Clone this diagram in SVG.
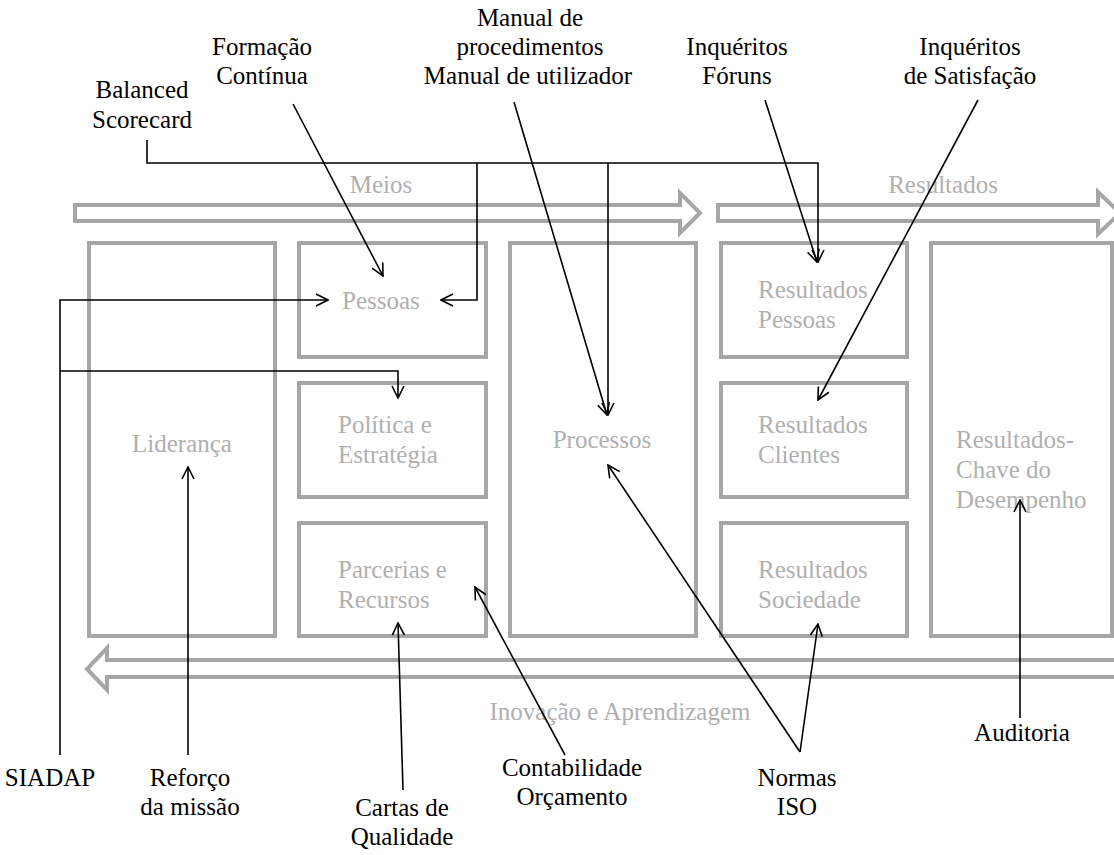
<svg xmlns="http://www.w3.org/2000/svg" width="1114" height="855" viewBox="0 0 1114 855">
  <defs>
    <style>
      .box { fill: none; stroke: #a6a6a6; stroke-width: 4; }
      .band { fill: none; stroke: #a6a6a6; stroke-width: 4; stroke-linejoin: miter; }
      .glabel { font-family: "Liberation Serif", "Times New Roman", serif; font-size: 25px; fill: #b0b0b0; }
      .label { font-family: "Liberation Serif", "Times New Roman", serif; font-size: 25px; fill: #000; }
      .mid { text-anchor: middle; }
      .link { fill: none; stroke: #000; stroke-width: 1.6; marker-end: url(#open); }
    </style>
    <marker id="open" viewBox="0 0 14 14" refX="13" refY="7" markerWidth="14" markerHeight="14" markerUnits="userSpaceOnUse" orient="auto">
      <path d="M1,1 L13,7 L1,13" fill="none" stroke="#000" stroke-width="1.6"/>
    </marker>
  </defs>

  <!-- flow bands -->
  <g id="bands">
    <path class="band" d="M75,205 H680 V193 L700,213 L680,233 V221 H75 Z"/>
    <path class="band" d="M718,205 H1098 V192 L1120,213 L1098,234 V221 H718 Z"/>
    <path class="band" d="M1120,660 H107 V648 L87,669 L107,690 V677 H1120"/>
    <text class="glabel mid" x="381" y="193">Meios</text>
    <text class="glabel mid" x="943" y="193">Resultados</text>
    <text class="glabel mid" x="620" y="720">Inovação e Aprendizagem</text>
  </g>

  <!-- criteria boxes -->
  <g id="lideranca">
    <rect class="box" x="89" y="243" width="186" height="393"/>
    <text class="glabel mid" x="182" y="452">Liderança</text>
  </g>
  <g id="pessoas">
    <rect class="box" x="299" y="243" width="187" height="114"/>
    <text class="glabel" x="342" y="309">Pessoas</text>
  </g>
  <g id="politica">
    <rect class="box" x="299" y="383" width="187" height="114"/>
    <text class="glabel" x="338" y="433">Política e</text>
    <text class="glabel" x="338" y="463">Estratégia</text>
  </g>
  <g id="parcerias">
    <rect class="box" x="299" y="523" width="187" height="113"/>
    <text class="glabel" x="338" y="578">Parcerias e</text>
    <text class="glabel" x="338" y="608">Recursos</text>
  </g>
  <g id="processos">
    <rect class="box" x="510" y="243" width="186" height="393"/>
    <text class="glabel mid" x="602" y="448">Processos</text>
  </g>
  <g id="res-pessoas">
    <rect class="box" x="721" y="243" width="186" height="114"/>
    <text class="glabel" x="758" y="298">Resultados</text>
    <text class="glabel" x="758" y="328">Pessoas</text>
  </g>
  <g id="res-clientes">
    <rect class="box" x="721" y="383" width="186" height="114"/>
    <text class="glabel" x="758" y="433">Resultados</text>
    <text class="glabel" x="758" y="463">Clientes</text>
  </g>
  <g id="res-sociedade">
    <rect class="box" x="721" y="523" width="186" height="113"/>
    <text class="glabel" x="758" y="578">Resultados</text>
    <text class="glabel" x="758" y="608">Sociedade</text>
  </g>
  <g id="res-chave">
    <rect class="box" x="931" y="243" width="181" height="393"/>
    <text class="glabel" x="956" y="448">Resultados-</text>
    <text class="glabel" x="956" y="478">Chave do</text>
    <text class="glabel" x="956" y="508">Desempenho</text>
  </g>

  <!-- management tools -->
  <g id="manual">
    <text class="label mid" x="530" y="26">Manual de</text>
    <text class="label mid" x="530" y="55">procedimentos</text>
    <text class="label mid" x="528" y="84">Manual de utilizador</text>
  </g>
  <g id="formacao">
    <text class="label mid" x="262" y="55">Formação</text>
    <text class="label mid" x="262" y="84">Contínua</text>
  </g>
  <g id="balanced">
    <text class="label mid" x="142" y="98">Balanced</text>
    <text class="label mid" x="142" y="128">Scorecard</text>
  </g>
  <g id="foruns">
    <text class="label mid" x="737" y="55">Inquéritos</text>
    <text class="label mid" x="737" y="84">Fóruns</text>
  </g>
  <g id="satisfacao">
    <text class="label mid" x="970" y="55">Inquéritos</text>
    <text class="label mid" x="970" y="84">de Satisfação</text>
  </g>
  <g id="siadap">
    <text class="label mid" x="50" y="786">SIADAP</text>
  </g>
  <g id="reforco">
    <text class="label mid" x="190" y="786">Reforço</text>
    <text class="label mid" x="190" y="815">da missão</text>
  </g>
  <g id="cartas">
    <text class="label mid" x="402" y="816">Cartas de</text>
    <text class="label mid" x="402" y="845">Qualidade</text>
  </g>
  <g id="contabilidade">
    <text class="label mid" x="572" y="776">Contabilidade</text>
    <text class="label mid" x="572" y="805">Orçamento</text>
  </g>
  <g id="normas">
    <text class="label mid" x="797" y="786">Normas</text>
    <text class="label mid" x="797" y="815">ISO</text>
  </g>
  <g id="auditoria">
    <text class="label mid" x="1022" y="741">Auditoria</text>
  </g>

  <!-- connectors -->
  <g id="connectors">
    <path class="link" d="M147,140 V163 H818 V262"/>
    <path class="link" d="M477,163 V300 H441"/>
    <path class="link" d="M608,163 V415"/>
    <path class="link" d="M293,104 L383,276"/>
    <path class="link" d="M514,102 L607,415"/>
    <path class="link" d="M765,100 L817,262"/>
    <path class="link" d="M978,100 L818,400"/>
    <path class="link" d="M60,755 V300 H328"/>
    <path class="link" d="M60,371 H398 V398"/>
    <path class="link" d="M188,755 V467"/>
    <path class="link" d="M403,790 L398,623"/>
    <path class="link" d="M565,755 L475,587"/>
    <path class="link" d="M800,752 L608,465"/>
    <path class="link" d="M800,752 L818,624"/>
    <path class="link" d="M1020,718 V500"/>
  </g>
</svg>
